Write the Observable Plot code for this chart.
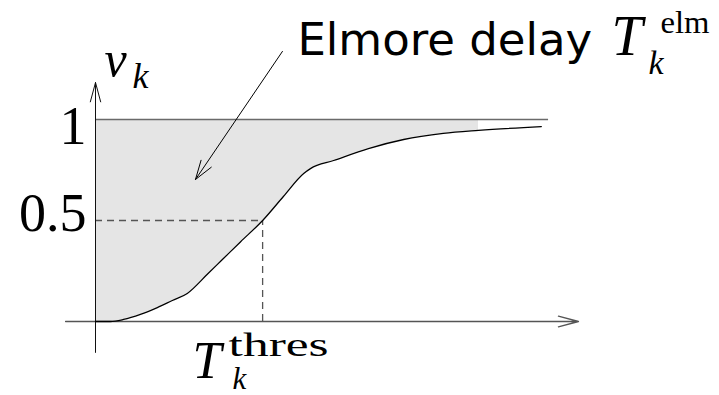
<!DOCTYPE html>
<html>
<head>
<meta charset="utf-8">
<script src="https://cdn.jsdelivr.net/npm/d3@7"></script>
<script src="https://cdn.jsdelivr.net/npm/@observablehq/plot@0.6"></script>
<style>
  html, body { margin: 0; padding: 0; background: #fff; }
  #chart svg { display: block; }
</style>
</head>
<body>
<div id="chart"></div>
<script>
// Step response at node k: time (arbitrary units) and normalised voltage v_k
const time    = [0, 0.31, 0.58, 0.93, 1.28, 1.59, 1.90, 2.32, 2.59, 3.00, 3.46, 3.89, 4.31, 4.45, 4.93, 5.65, 6.38, 7.20, 7.93, 9.23];
const voltage = [0, 0.0, 0.01, 0.035, 0.069, 0.104, 0.139, 0.235, 0.298, 0.394, 0.5, 0.619, 0.733, 0.757, 0.797, 0.856, 0.901, 0.931, 0.946, 0.965];

// Threshold crossing and the extent of the shaded (Elmore delay) area
const vThres = 0.5;
const tThres = 3.46;
const tShadeEnd = 7.93;
const tFinalLine = 9.38;

// Axis extents and the tick labels on the v axis
const tAxis = [-0.62, 10];
const vAxis = [-0.153, 1.183];
const vTicks = [1, 0.5];
const vTickLabels = ["1", "0.5"];

// Annotation arrow: tail near the label, head inside the shaded area
const noteTail = {t: 3.87, v: 1.337};
const noteHead = {t: 2.07, v: 0.703};

const curve = time.map((t, i) => ({t, v: voltage[i]}));
const shade = curve.filter(d => d.t <= tShadeEnd);

const serif = "Liberation Serif";
const sans = "DejaVu Sans";

// a piece of text anchored at a data point, baseline offset by dx/dy pixels
function piece(text, t, v, dx, dy, size, opts = {}) {
  return Plot.text([text], {
    x: () => t, y: () => v, text: d => d,
    dx, dy, fontSize: size, lineAnchor: "bottom",
    textAnchor: opts.anchor || "start",
    fontFamily: opts.family || serif,
    fontStyle: opts.italic ? "italic" : "normal",
    fill: "#000"
  });
}

const chart = Plot.plot({
  width: 719,
  height: 395,
  margin: 0,
  x: {domain: [0, 10], range: [95, 578], axis: null},
  y: {domain: [0, 1], range: [321, 119], axis: null},
  marks: [
    // area between the response and its final value
    Plot.areaY(shade, {x: "t", y1: "v", y2: 1, fill: "#e5e5e5", curve: "monotone-x"}),
    // final value line
    Plot.ruleY([1], {x1: 0, x2: tFinalLine, stroke: "#6a6a6a", strokeWidth: 1.6}),
    // 50% threshold guides
    Plot.ruleY([vThres], {x1: 0, x2: tThres, stroke: "#555", strokeWidth: 1.3, strokeDasharray: "7,5"}),
    Plot.ruleX([tThres], {y1: 0, y2: vThres, stroke: "#555", strokeWidth: 1.3, strokeDasharray: "7,5"}),
    // axes with open arrowheads
    Plot.arrow([0], {x1: tAxis[0], y1: 0, x2: tAxis[1], y2: 0, stroke: "#555", strokeWidth: 1.3, headLength: 24, headAngle: 30}),
    Plot.arrow([0], {x1: 0, y1: vAxis[0], x2: 0, y2: vAxis[1], stroke: "#111", strokeWidth: 1, headLength: 30, headAngle: 30}),
    // response curve
    Plot.line(curve, {x: "t", y: "v", stroke: "#000", strokeWidth: 1.3, curve: "monotone-x"}),
    // annotation arrow
    Plot.arrow([0], {x1: noteTail.t, y1: noteTail.v, x2: noteHead.t, y2: noteHead.v, stroke: "#000", strokeWidth: 1, headLength: 30, headAngle: 36}),
    // v-axis tick labels
    ...vTicks.map((v, i) => piece(vTickLabels[i], 0, v, -9, v === 1 ? 24 : 10, 54, {anchor: "end"})),
    // v_k axis label
    piece("v", 0, vAxis[1], 9, -7, 50, {italic: true}),
    piece("k", 0, vAxis[1], 37, 5, 36, {italic: true}),
    // T_k^thres label
    piece("T", tThres, 0, -70, 56, 52, {italic: true}),
    piece("thres", tThres, 0, -34, 34, 34),
    piece("k", tThres, 0, -30, 67, 31, {italic: true}),
    // Elmore delay T_k^elm label
    piece("Elmore delay", noteTail.t, noteTail.v, 15, 4, 45, {family: sans}),
    piece("T", noteTail.t, noteTail.v, 329, 4, 56, {italic: true}),
    piece("elm", noteTail.t, noteTail.v, 378, -18, 32),
    piece("k", noteTail.t, noteTail.v, 366, 23, 34, {italic: true})
  ]
});

// the roman superscripts are set a little wider, as in Computer Modern
const widen = {thres: 100, elm: 49};
d3.select(chart).selectAll("text").each(function() {
  const w = widen[this.textContent];
  if (w) d3.select(this).attr("textLength", w).attr("lengthAdjust", "spacingAndGlyphs");
});

document.getElementById("chart").appendChild(chart);
</script>
</body>
</html>
